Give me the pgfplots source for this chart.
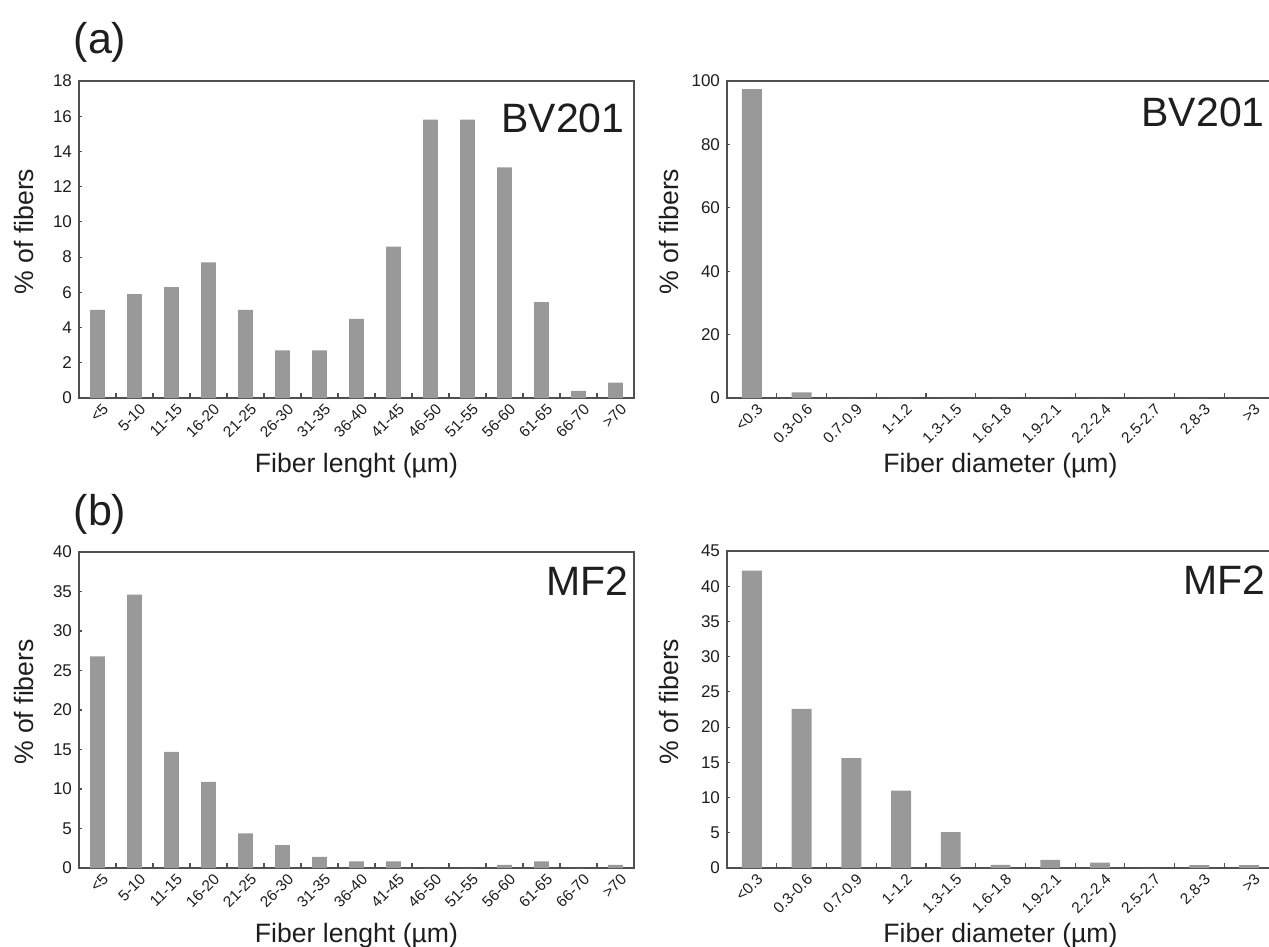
\documentclass[border=0pt]{standalone}
\usepackage{fontspec}
\setmainfont{Liberation Sans}
\usepackage{pgfplots}
\pgfplotsset{compat=1.18}
\definecolor{barc}{HTML}{999999}
\definecolor{axc}{HTML}{505050}
\definecolor{txc}{HTML}{1E1E1E}
\tikzset{tag/.style={font=\fontsize{20.5}{24}\selectfont, text=txc, inner sep=0pt, anchor=north east}}
\pgfplotsset{
  hist/.style={
    scale only axis,
    ybar, bar width=0.4,
    axis line style={axc, line width=0.75pt},
    tick style={axc, line width=0.6pt},
    tick align=inside,
    xtick pos=bottom, ytick pos=left,
    major tick length=1.7pt, minor tick length=2.6pt,
    major x tick style={draw=none},
    ymin=0,
    /pgf/number format/assume math mode=true,
    y tick label style={font=\fontsize{8.5}{10}\selectfont, text=txc},
    x tick label style={font=\fontsize{7.7}{9}\selectfont, text=txc, rotate=45, anchor=north east, inner sep=1pt, xshift=1pt, yshift=-2pt},
    label style={font=\fontsize{13.3}{15}\selectfont, text=txc},
    ylabel={\% of fibers},
    xlabel style={at={(axis description cs:0.5,0)}, anchor=center, yshift=-34pt},
  },
  lenax/.style={
    hist, width=277.5pt, height=158.5pt,
    xmin=-0.5, xmax=14.5,
    xtick={0,...,14},
    minor xtick={0.5,1.5,...,13.5},
    xticklabels={{<5},{5-10},{11-15},{16-20},{21-25},{26-30},{31-35},{36-40},{41-45},{46-50},{51-55},{56-60},{61-65},{66-70},{>70}},
    xlabel={Fiber lenght (µm)},
    ylabel style={at={(axis description cs:-0.099,0.525)}, anchor=center},
  },
  diaax/.style={
    hist, width=273.5pt, height=158.5pt,
    xmin=-0.5, xmax=10.5,
    xtick={0,...,10},
    minor xtick={0.5,1.5,...,9.5},
    xticklabels={{<0.3},{0.3-0.6},{0.7-0.9},{1-1.2},{1.3-1.5},{1.6-1.8},{1.9-2.1},{2.2-2.4},{2.5-2.7},{2.8-3},{>3}},
    xlabel={Fiber diameter (µm)},
    ylabel style={at={(axis description cs:-0.106,0.525)}, anchor=center},
  },
}
\begin{document}
\begin{tikzpicture}
\path (0,0) rectangle (634.5pt,-473.5pt);
\begin{pgfinterruptboundingbox}

% (a) length BV201
\begin{axis}[lenax, at={(39.5pt,-199pt)}, anchor=south west,
  ymax=18, ytick={0,2,...,18}]
\addplot[fill=barc, draw=none] coordinates {
(0,5.0) (1,5.9) (2,6.3) (3,7.7) (4,5.0) (5,2.7) (6,2.7) (7,4.5)
(8,8.6) (9,15.8) (10,15.8) (11,13.1) (12,5.45) (13,0.4) (14,0.87)};
\node[tag] at (rel axis cs:1,1) [xshift=-4.5pt, yshift=-11pt] {BV201};
\end{axis}

% (a) diameter BV201
\begin{axis}[diaax, at={(363.5pt,-199pt)}, anchor=south west,
  ymax=100, ytick={0,20,...,100}]
\addplot[fill=barc, draw=none] coordinates {
(0,97.4) (1,1.8) (2,0) (3,0) (4,0) (5,0) (6,0) (7,0) (8,0) (9,0) (10,0)};
\node[tag] at (rel axis cs:1,1) [xshift=-4.5pt, yshift=-8pt] {BV201};
\end{axis}

% (b) length MF2
\begin{axis}[lenax, at={(39.5pt,-434pt)}, anchor=south west,
  height=158pt, ymax=40, ytick={0,5,...,40}]
\addplot[fill=barc, draw=none] coordinates {
(0,26.8) (1,34.6) (2,14.7) (3,10.9) (4,4.4) (5,2.9) (6,1.4) (7,0.85)
(8,0.85) (9,0) (10,0) (11,0.4) (12,0.85) (13,0) (14,0.4)};
\node[tag] at (rel axis cs:1,1) [xshift=-2.5pt, yshift=-7pt] {MF2};
\end{axis}

% (b) diameter MF2
\begin{axis}[diaax, at={(363.5pt,-434pt)}, anchor=south west,
  ymax=45, ytick={0,5,...,45}]
\addplot[fill=barc, draw=none] coordinates {
(0,42.2) (1,22.6) (2,15.6) (3,11.0) (4,5.1) (5,0.43) (6,1.14) (7,0.75)
(8,0) (9,0.4) (10,0.4)};
\node[tag] at (rel axis cs:1,1) [xshift=-4pt, yshift=-7pt] {MF2};
\end{axis}

\node[font=\fontsize{21.5}{24}\selectfont, text=txc] at (50pt,-21pt) {(a)};
\node[font=\fontsize{21.5}{24}\selectfont, text=txc] at (50pt,-257pt) {(b)};
\end{pgfinterruptboundingbox}
\end{tikzpicture}
\end{document}
